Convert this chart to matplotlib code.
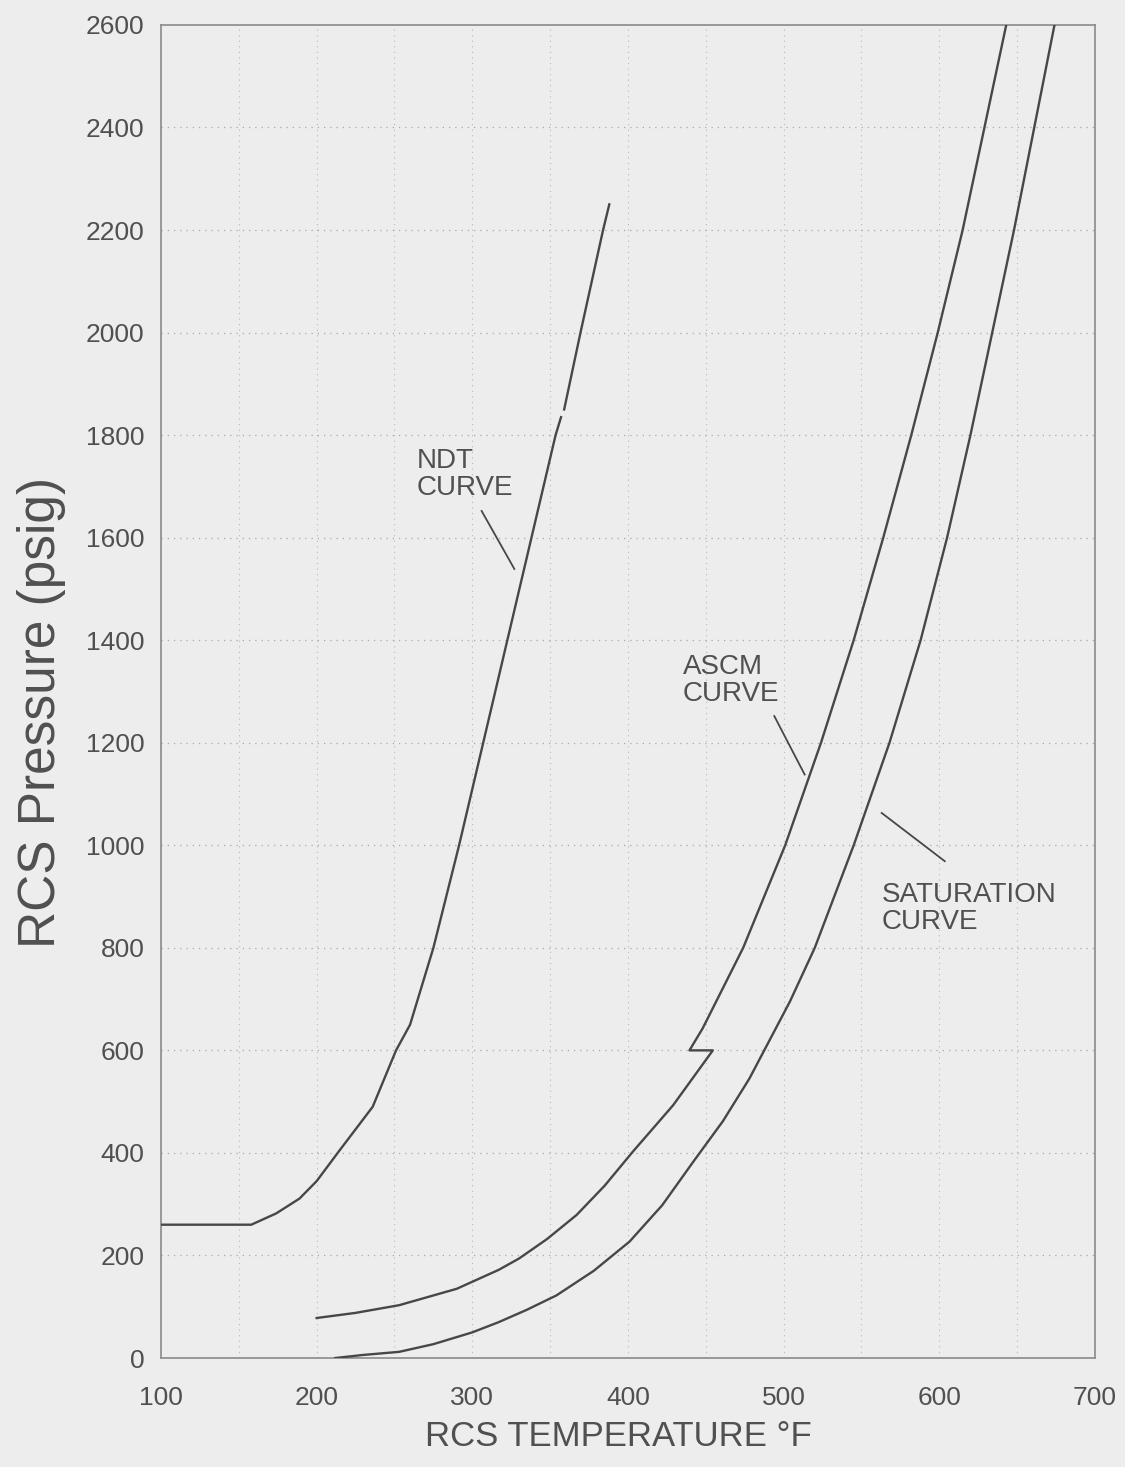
"""RCS pressure / temperature limits: NDT, ASCM and saturation curves."""
import matplotlib.pyplot as plt
import numpy as np

# NDT curve (nan = small break in the line)
ndt_temp = [100, 158, 174, 189, 200, 214, 236, 251, 260, 275, 291.5, 307, 322.5, 338, 353.5, 357, np.nan, 359, 369.5, 384, 388]
ndt_pres = [260, 260, 282, 311, 345, 402, 490, 600, 650, 800, 1000, 1200, 1400, 1600, 1800, 1835, np.nan, 1850, 2000, 2200, 2250]

# ASCM curve (with the step at 600 psig)
ascm_temp = [200, 225, 253, 290, 317, 330, 348, 367, 385, 403, 429, 454.5, 439.5, 448, 474, 501, 524, 545, 564, 582, 599, 615, 629, 643]
ascm_pres = [78, 88, 103, 135, 172, 194, 232, 279, 336, 402, 493, 600, 600, 643, 800, 1000, 1200, 1400, 1600, 1800, 2000, 2200, 2400, 2600]

# saturation curve
sat_temp = [212, 230, 253, 275, 300, 317, 335, 354, 378, 401, 422, 442, 461, 478, 504, 520, 545, 568, 588, 605, 620, 634, 648, 661, 674]
sat_pres = [0, 6, 12, 27, 50, 70, 94, 122, 170, 227, 298, 383, 462, 545, 695, 800, 1000, 1200, 1400, 1600, 1800, 2000, 2200, 2400, 2600]

# curve labels: text, anchor (temp, pres), pointer start and end
labels = ["NDT\nCURVE", "ASCM\nCURVE", "SATURATION\nCURVE"]
label_xy = [(264, 1775), (435, 1374), (563, 929)]
pointer_from = [(306, 1652), (494, 1252), (563, 1063)]
pointer_to = [(327, 1539), (513.5, 1138), (603.5, 969)]

x_ticks = [100, 200, 300, 400, 500, 600, 700]
y_ticks = list(range(0, 2601, 200))

BG = "#ededed"
INK = "#474747"
TXT = "#505050"

plt.rcParams["font.family"] = ["Liberation Sans", "DejaVu Sans"]

fig = plt.figure(figsize=(11.25, 14.67), dpi=100, facecolor=BG)
ax = fig.add_axes([0.1431, 0.0743, 0.9733 - 0.1431, 0.983 - 0.0743], facecolor=BG)

ax.set_xlim(100, 700)
ax.set_ylim(0, 2600)

# dotted grid: every 50 F, every 200 psig
for t in range(150, 700, 50):
    ax.axvline(t, color="#b8b8b8", lw=0.8, ls=(0, (1, 4)), zorder=1)
for p in y_ticks[1:-1]:
    ax.axhline(p, color="#a8a8a8", lw=0.9, ls=(0, (1, 4)), zorder=1)

for temp, pres in [(ndt_temp, ndt_pres), (ascm_temp, ascm_pres), (sat_temp, sat_pres)]:
    ax.plot(temp, pres, color=INK, lw=1.7, zorder=3, solid_joinstyle="round")

for text, xy, p0, p1 in zip(labels, label_xy, pointer_from, pointer_to):
    ax.text(xy[0], xy[1], text, ha="left", va="top", fontsize=20, color=TXT,
            linespacing=1.05, zorder=4)
    ax.plot([p0[0], p1[0]], [p0[1], p1[1]], color=INK, lw=1.3, zorder=3)

ax.set_xticks(x_ticks)
ax.set_yticks(y_ticks)
ax.tick_params(length=0, labelsize=19, labelcolor=TXT, pad=12)
ax.tick_params(axis="x", pad=20)
for spine in ax.spines.values():
    spine.set_color("#8a8a8a")
    spine.set_linewidth(1.2)

fig.text(42 / 1125, 1 - 712 / 1467, "RCS Pressure (psig)", rotation=90,
         ha="center", va="center", fontsize=37, color=TXT)
fig.text(618 / 1125, 1 - 1437 / 1467, "RCS TEMPERATURE \u00b0F", ha="center",
         va="center", fontsize=25, color=TXT)

fig.savefig("out.png", dpi=100, facecolor=BG)
plt.close(fig)
